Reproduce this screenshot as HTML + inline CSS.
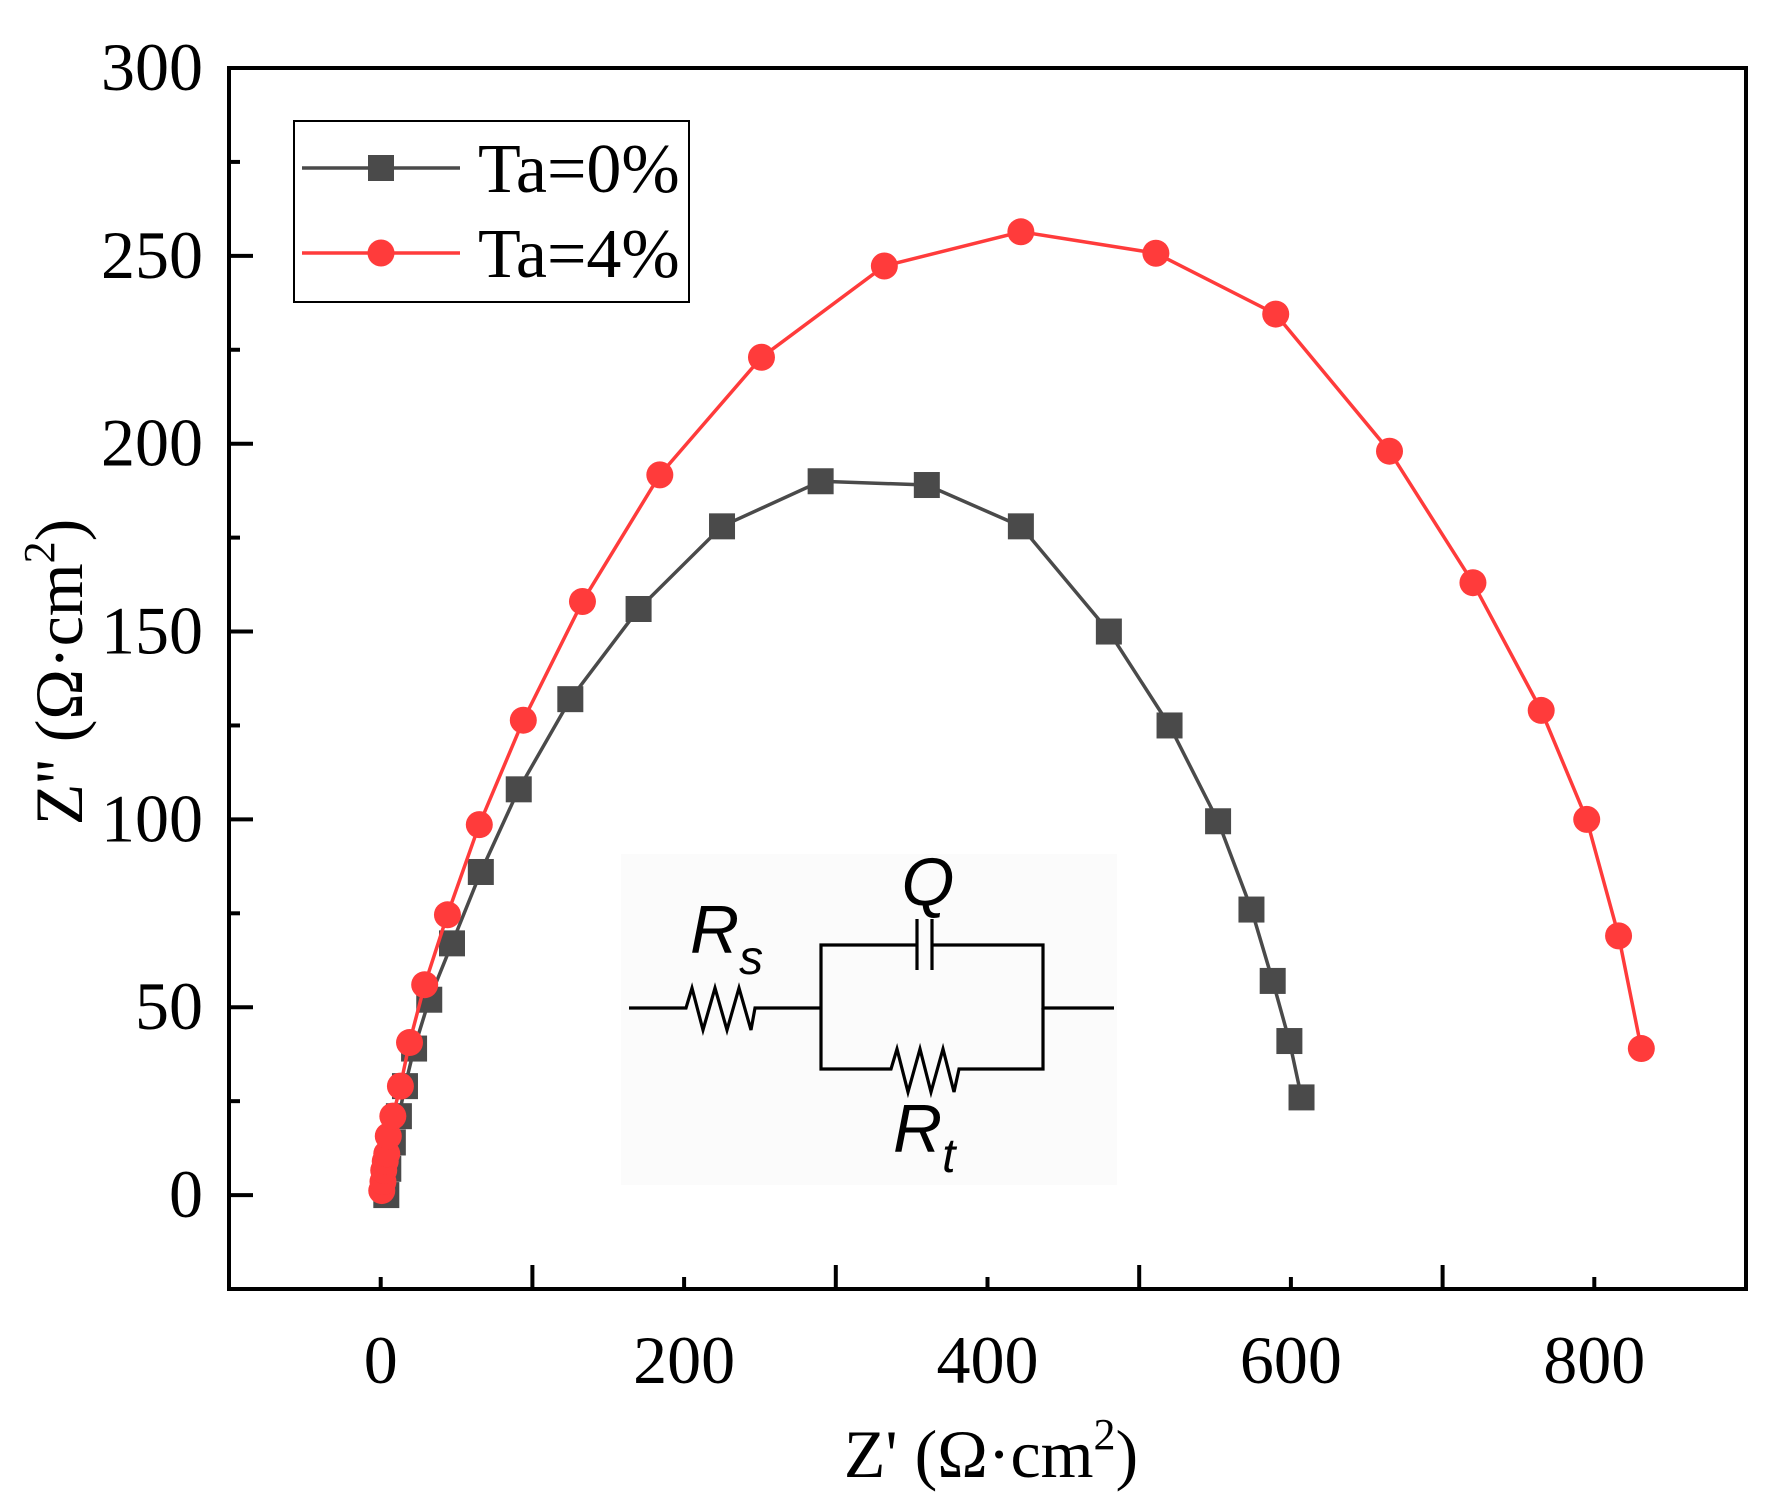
<!DOCTYPE html>
<html><head><meta charset="utf-8"><style>
html,body{margin:0;padding:0;background:#fff;}
svg{display:block;}
</style></head><body>
<svg id="chart" width="1779" height="1511" viewBox="0 0 1779 1511" xmlns="http://www.w3.org/2000/svg">
<g id="inset">
<rect x="621" y="854" width="496" height="331" fill="#fbfbfb"/>
<g fill="none" stroke="#000" stroke-width="3.2">
<polyline points="629,1008 686,1008 692,988 703,1030 715,988 727,1030 739,988 751,1030 755,1008 821,1008"/>
<polyline points="821,1008 821,945 917,945"/>
<polyline points="932,945 1043,945 1043,1008 1114,1008"/>
<line x1="917" y1="919" x2="917" y2="970"/>
<line x1="932" y1="919" x2="932" y2="970"/>
<polyline points="821,1008 821,1069 891,1069 897,1049 908,1092 920,1049 931,1092 943,1049 954,1092 959,1069 1043,1069 1043,1008"/>
</g>
<g font-family="'Liberation Sans',Arial,sans-serif" font-style="italic" fill="#000">
<text x="928" y="905" font-size="68" text-anchor="middle">Q</text>
<text x="690" y="953" font-size="68">R<tspan font-size="48" dy="21">s</tspan></text>
<text x="893" y="1152" font-size="68">R<tspan font-size="48" dy="20">t</tspan></text>
</g>
</g>
<g id="plot"></g>
</svg>
<script>
const ta0X=[3.7,5,8,12,16,22,32,47,66,91,125,170,225,290,360,422,480,520,552,574,588,599,607];
const ta0Y=[0,7,14,21,29,39,52,67,86,108,132,156,178,190,189,178,150,125,99.5,76,57,41,26];
const ta4X=[0.7,1.5,2,3,4,5,8,13,19,29,44,65,94,133,184,251,332,422,511,590,665,720,765,795,816,831];
const ta4Y=[1.2,3.6,6.6,9,11,15.7,21,29,40.6,56,74.6,98.6,126.4,158,191.7,223,247.3,256.4,250.7,234.5,198,163,129,100,69,39];
const xTicks=[0,200,400,600,800];
const xMinor=[-100,100,300,500,700,900];
const yTicks=[0,50,100,150,200,250,300];
const yMinor=[-25,25,75,125,175,225,275];

const NS='http://www.w3.org/2000/svg';
const L=229,R=1746,T=68,B=1289;
const X=v=>L+(v+100)/1000*(R-L);
const Y=v=>B-(v+25)/325*(B-T);
const g=document.getElementById('plot');
function mk(tag,attrs,parent){const e=document.createElementNS(NS,tag);for(const k in attrs)e.setAttribute(k,attrs[k]);(parent||g).appendChild(e);return e;}

function series(xs,ys,color,shape,name){
  const grp=mk('g',{});
  
  
  const pts=xs.map((x,i)=>X(x).toFixed(1)+','+Y(ys[i]).toFixed(1)).join(' ');
  const pl=mk('polyline',{points:pts,fill:'none',stroke:color,'stroke-width':3.5},grp);
  
  
  xs.forEach((x,i)=>{
    let m;
    if(shape==='square') m=mk('rect',{x:X(x)-13,y:Y(ys[i])-13,width:26,height:26,fill:color},grp);
    else m=mk('circle',{cx:X(x),cy:Y(ys[i]),r:13.5,fill:color},grp);
    
    
  });
}
series(ta0X,ta0Y,'#4a4a4a','square','series-ta-0');
series(ta4X,ta4Y,'#ff3b3b','circle','series-ta-4');

const fr=mk('rect',{x:L,y:T,width:R-L,height:B-T,fill:'none',stroke:'#000','stroke-width':4});


const font="'Liberation Serif','Times New Roman',serif";
xTicks.forEach(v=>{
  const t=mk('line',{x1:X(v),x2:X(v),y1:B,y2:B-12,stroke:'#000','stroke-width':4});
  
  
  const tx=mk('text',{x:X(v),y:1383,'font-family':font,'font-size':68,'text-anchor':'middle'});
  tx.textContent=v;
  
  
});
xMinor.forEach(v=>{
  const t=mk('line',{x1:X(v),x2:X(v),y1:B,y2:B-24,stroke:'#000','stroke-width':4});
  
  
});
yTicks.forEach(v=>{
  const t=mk('line',{x1:L,x2:L+24,y1:Y(v),y2:Y(v),stroke:'#000','stroke-width':4});
  
  
  const tx=mk('text',{x:203,y:Y(v)+22,'font-family':font,'font-size':68,'text-anchor':'end'});
  tx.textContent=v;
  
  
});
yMinor.forEach(v=>{
  const t=mk('line',{x1:L,x2:L+11,y1:Y(v),y2:Y(v),stroke:'#000','stroke-width':4});
  
  
});
const xt=mk('text',{x:991,y:1477,'font-family':font,'font-size':68,'text-anchor':'middle'});
xt.innerHTML="Z' (Ω·cm<tspan font-size='44' dy='-28'>2</tspan><tspan dy='28'>)</tspan>";


const yt=mk('text',{x:0,y:0,'font-family':font,'font-size':68,'text-anchor':'middle',transform:'translate(82,672) rotate(-90)'});
yt.innerHTML="Z'' (Ω·cm<tspan font-size='44' dy='-28'>2</tspan><tspan dy='28'>)</tspan>";


const lg=mk('g',{});


const lb=mk('rect',{x:294,y:121,width:395,height:181,fill:'#fff',stroke:'#000','stroke-width':2},lg);


[['Ta=0%','#4a4a4a','square',168],['Ta=4%','#ff3b3b','circle',253]].forEach(([lab,c,s,y])=>{
  const e=mk('g',{},lg);
  
  
  mk('line',{x1:302,x2:460,y1:y,y2:y,stroke:c,'stroke-width':3.5},e);
  if(s==='square') mk('rect',{x:368,y:y-13,width:26,height:26,fill:c},e);
  else mk('circle',{cx:381,cy:y,r:13.5,fill:c},e);
  const t=mk('text',{x:478,y:y+24,'font-family':font,'font-size':70},e);
  t.textContent=lab;
});
</script>
</body></html>
